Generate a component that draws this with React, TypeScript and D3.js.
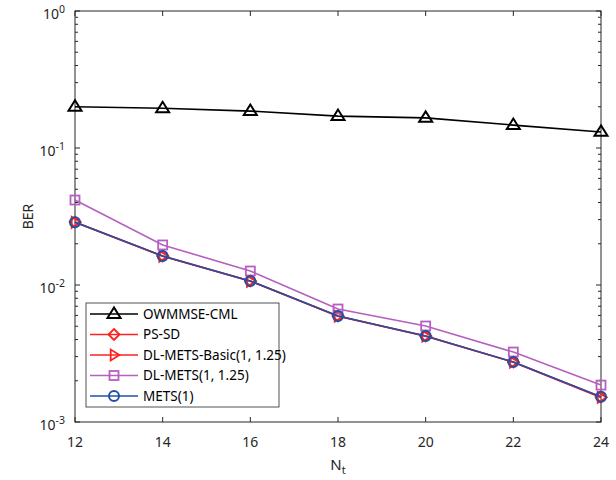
import React from "react";
import * as d3 from "d3";

const xValues = [12, 14, 16, 18, 20, 22, 24];
const owmmse = [0.2, 0.195, 0.186, 0.171, 0.166, 0.147, 0.131];
const pssd = [0.0288, 0.0163, 0.0107, 0.00594, 0.00424, 0.00274, 0.00152];
const dlBasic = [0.0287, 0.0162, 0.01065, 0.00592, 0.00423, 0.00273, 0.00151];
const dlMets = [0.0417, 0.0196, 0.01265, 0.00668, 0.00502, 0.00324, 0.00186];
const mets = [0.0287, 0.0163, 0.0107, 0.00594, 0.00425, 0.00274, 0.00153];
const xTicks = [12, 14, 16, 18, 20, 22, 24];
const yExps = [-3, -2, -1, 0];

const series = [
  { name: "OWMMSE-CML", values: owmmse, color: "#000000", marker: "tri" },
  { name: "PS-SD", values: pssd, color: "#FF2020", marker: "diamond" },
  { name: "DL-METS-Basic(1, 1.25)", values: dlBasic, color: "#FF2020", marker: "right" },
  { name: "DL-METS(1, 1.25)", values: dlMets, color: "#B65FC0", marker: "square" },
  { name: "METS(1)", values: mets, color: "#2050A8", marker: "circle" },
];

const L = 75, R = 601, T = 11, B = 422;
const FONT = "'Noto Sans', 'Open Sans', sans-serif";
const AX = "#262626";

function Marker({ type, x, y, color }: { type: string; x: number; y: number; color: string }) {
  const sw = 1.8;
  if (type === "tri") {
    const s = 6.5;
    return <polygon points={`${x},${y - s} ${x - s},${y + s * 0.6} ${x + s},${y + s * 0.6}`} fill="none" stroke={color} strokeWidth={2} />;
  }
  if (type === "diamond") {
    const s = 5.5;
    return <polygon points={`${x},${y - s} ${x + s},${y} ${x},${y + s} ${x - s},${y}`} fill="none" stroke={color} strokeWidth={sw} />;
  }
  if (type === "right") {
    const s = 5.5;
    return <polygon points={`${x + s},${y} ${x - s * 0.6},${y - s} ${x - s * 0.6},${y + s}`} fill="none" stroke={color} strokeWidth={sw} />;
  }
  if (type === "square") {
    const s = 4.5;
    return <rect x={x - s} y={y - s} width={2 * s} height={2 * s} fill="none" stroke={color} strokeWidth={sw} />;
  }
  return <circle cx={x} cy={y} r={5} fill="none" stroke={color} strokeWidth={2} />;
}

export default function App() {
  const x = d3.scaleLinear().domain([12, 24]).range([L, R]);
  const y = d3.scaleLog().domain([1e-3, 1]).range([B, T]);
  const line = d3.line<number>().x((_, i) => x(xValues[i])).y((d) => y(d));

  const minor: number[] = [];
  for (let e = -3; e < 0; e++) for (let k = 2; k <= 9; k++) minor.push(k * Math.pow(10, e));

  const legX = 86, legY = 303, legW = 193, legH = 104;

  return (
    <svg width={616} height={480} style={{ position: "absolute", left: 0, top: 0, background: "#fff" }}>
      <rect x={0} y={0} width={616} height={480} fill="#fff" />
      {/* ticks */}
      <g stroke={AX} strokeWidth={1}>
        {xTicks.map((t) => (
          <g key={t}>
            <line x1={x(t)} x2={x(t)} y1={B} y2={B - 5} />
            <line x1={x(t)} x2={x(t)} y1={T} y2={T + 5} />
          </g>
        ))}
        {yExps.map((e) => (
          <g key={e}>
            <line x1={L} x2={L + 5} y1={y(Math.pow(10, e))} y2={y(Math.pow(10, e))} />
            <line x1={R} x2={R - 5} y1={y(Math.pow(10, e))} y2={y(Math.pow(10, e))} />
          </g>
        ))}
        {minor.map((m, i) => (
          <g key={i}>
            <line x1={L} x2={L + 3} y1={y(m)} y2={y(m)} />
            <line x1={R} x2={R - 3} y1={y(m)} y2={y(m)} />
          </g>
        ))}
      </g>
      <rect x={L} y={T} width={R - L} height={B - T} fill="none" stroke={AX} strokeWidth={1} />
      {/* tick labels */}
      <g fontFamily={FONT} fill={AX} fontSize={14}>
        {xTicks.map((t) => (
          <text key={t} x={x(t)} y={447} textAnchor="middle">{t}</text>
        ))}
        {yExps.map((e) => (
          <text key={e} x={65} y={y(Math.pow(10, e)) + 8} textAnchor="end">
            10<tspan dy={-6} fontSize={10.5}>{e}</tspan>
          </text>
        ))}
        <text x={338} y={470} textAnchor="middle" fontSize={15}>
          N<tspan dy={4} fontSize={11}>t</tspan>
        </text>
        <text transform={`translate(33,${(T + B) / 2}) rotate(-90)`} textAnchor="middle" fontSize={14}>BER</text>
      </g>
      {/* series */}
      {series.map((s) => (
        <g key={s.name}>
          <path d={line(s.values) || ""} fill="none" stroke={s.color} strokeWidth={1.6} />
          {s.values.map((v, i) => (
            <Marker key={i} type={s.marker} x={x(xValues[i])} y={y(v)} color={s.color} />
          ))}
        </g>
      ))}
      {/* legend */}
      <rect x={legX} y={legY} width={legW} height={legH} fill="#fff" stroke={AX} strokeWidth={0.8} />
      <g fontFamily={FONT} fontSize={13.5} fill="#000">
        {series.map((s, i) => {
          const ly = 314 + i * 20.5;
          return (
            <g key={s.name}>
              <line x1={90} x2={138} y1={ly} y2={ly} stroke={s.color} strokeWidth={1.6} />
              <Marker type={s.marker} x={114} y={ly} color={s.color} />
              <text x={143} y={ly + 4.5}>{s.name}</text>
            </g>
          );
        })}
      </g>
    </svg>
  );
}
